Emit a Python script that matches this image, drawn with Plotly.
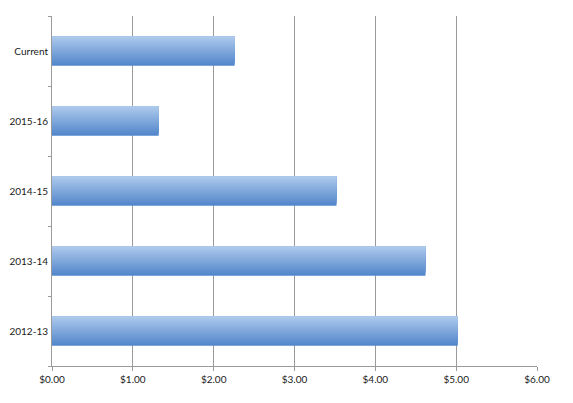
import plotly.graph_objects as go

# ── data ──────────────────────────────────────────────────────────────────
periods = ["2012-13", "2013-14", "2014-15", "2015-16", "Current"]
values = [5.02, 4.62, 3.52, 1.32, 2.26]
x_ticks = [0, 1, 2, 3, 4, 5, 6]

# ── style: fake a top-to-bottom gradient with stacked overlapping strips ─
BAR_H = 0.42
N_STRIPS = 14
TOP = (172, 200, 236)
BOTTOM = (84, 136, 204)


def blend(t):
    r, g, b = (int(BOTTOM[k] + (TOP[k] - BOTTOM[k]) * t) for k in range(3))
    return f"rgb({r},{g},{b})"


fig = go.Figure()
sw = BAR_H / N_STRIPS
for i in range(N_STRIPS):
    # each strip runs from its own lower edge up to the bar's top edge
    fig.add_trace(go.Bar(
        y=periods, x=values, orientation="h",
        width=BAR_H - i * sw, offset=-BAR_H / 2 + i * sw,
        marker=dict(color=blend(i / (N_STRIPS - 1)), line_width=0),
        showlegend=False, hoverinfo="x+y" if i == 0 else "skip",
    ))

# page body adds ~8px on top/left, so margins are trimmed to compensate
fig.update_layout(
    width=573, height=403,
    margin=dict(l=44, r=44, t=8, b=45),
    barmode="overlay",
    plot_bgcolor="white", paper_bgcolor="white",
    font=dict(family="Lato, Liberation Sans, sans-serif", size=10, color="#1a1a1a"),
)
fig.update_xaxes(
    range=[0, 6], tickvals=x_ticks, tickformat="$.2f",
    showgrid=True, gridcolor="#9a9a9a", gridwidth=1,
    showline=True, linecolor="#9a9a9a", linewidth=1,
    ticks="outside", ticklen=4, tickcolor="#9a9a9a",
    zeroline=False, automargin=False,
)
fig.update_yaxes(
    categoryorder="array", categoryarray=periods,
    range=[-0.5, 4.5],
    showline=True, linecolor="#9a9a9a", linewidth=1,
    ticks="outside", tickson="boundaries", ticklen=3, tickcolor="#9a9a9a",
    showgrid=False, ticklabelstandoff=1, automargin=False,
)

fig.write_html("out.html")
